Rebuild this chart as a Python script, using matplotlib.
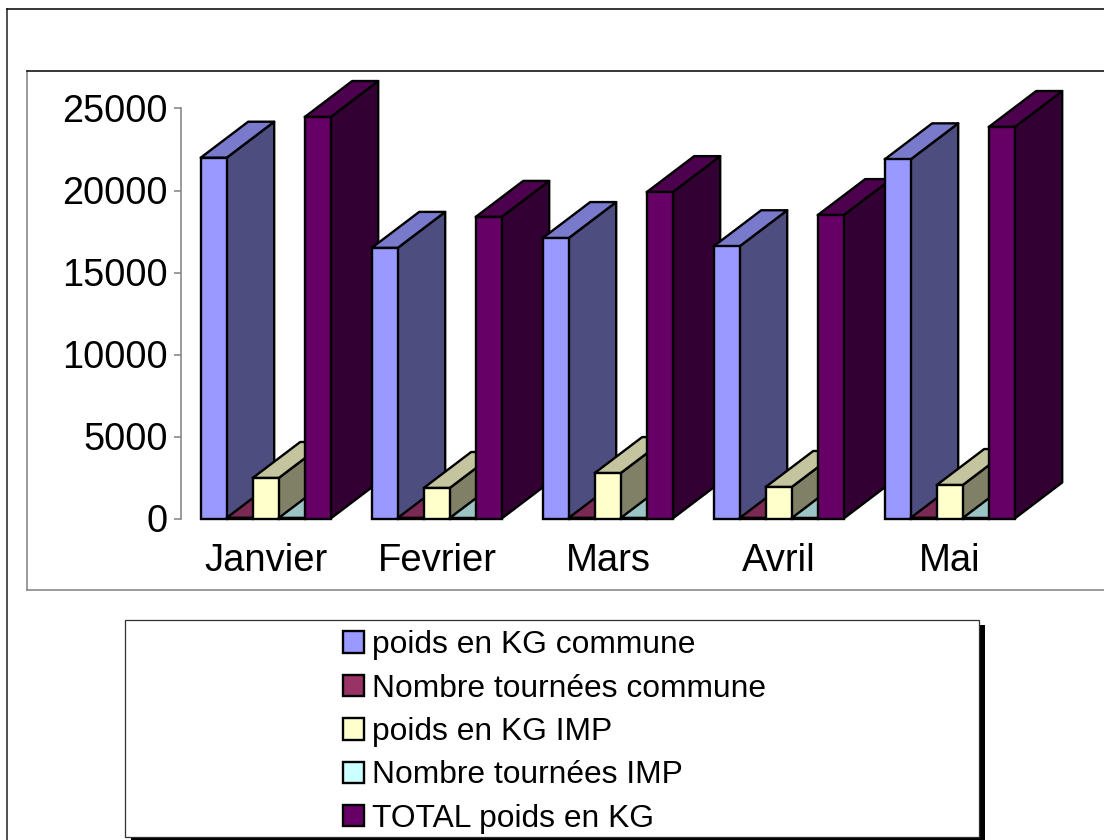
import matplotlib
matplotlib.use("Agg")
import matplotlib.pyplot as plt
from matplotlib.patches import Polygon, Rectangle

plt.rcParams['font.family'] = ['Liberation Sans', 'DejaVu Sans']

months = ['Janvier', 'Fevrier', 'Mars', 'Avril', 'Mai']
yticks = [0, 5000, 10000, 15000, 20000, 25000]

poids_commune = [22000, 16500, 17100, 16600, 21900]
tournees_commune = [40, 30, 35, 30, 40]
poids_imp = [2470, 1860, 2770, 1920, 2040]
tournees_imp = [30, 25, 30, 25, 25]
total_poids = [24480, 18390, 19900, 18500, 23870]

labels = ['poids en KG commune', 'Nombre tournées commune', 'poids en KG IMP',
          'Nombre tournées IMP', 'TOTAL poids en KG']
front = ['#9999FF', '#993366', '#FFFFCC', '#CCFFFF', '#660066']
side = ['#4D4D80', '#4D1A33', '#808066', '#668080', '#330033']
top = ['#7A7ACC', '#7A2952', '#C4C49F', '#9CC4C4', '#4D004D']
series = [poids_commune, tournees_commune, poids_imp, tournees_imp, total_poids]

W, H = 1104, 840
fig = plt.figure(figsize=(W / 100, H / 100), dpi=100)

# frames, in pixels
bg = fig.add_axes([0, 0, 1, 1], zorder=0)
bg.set_xlim(0, W)
bg.set_ylim(H, 0)
bg.axis('off')
bg.plot([7, 7], [H, 9], color='#202020', lw=1.1)
bg.plot([7, W], [9, 9], color='black', lw=1.1)
bg.plot([27, 27], [590, 71], color='#808080', lw=1.1)
bg.plot([27, W], [590, 590], color='#808080', lw=1.1)
bg.plot([27, W], [71, 71], color='black', lw=1.1)
bg.add_patch(Rectangle((131, 625), 854, 216, color='black', lw=0))
bg.add_patch(Rectangle((125, 619.5), 853.5, 217, fc='white', ec='#303030', lw=0.9))

# main chart, 5 groups over 855 px, 410 px for 25000
ax = fig.add_axes([180.5 / W, 1 - 518.5 / H, 855 / W, 410 / H], zorder=1)
ax.patch.set_visible(False)
ax.set_xlim(0, 5)
ax.set_ylim(0, 25000)

bar_w = 26 / 171
dep_x = 47.5 / 171
dep_y = 36 / 410 * 25000
first = 20.2 / 171
lw = 1.7

for g in range(len(months)):
    for s, vals in enumerate(series):
        x0 = g + first + s * bar_w
        x1 = x0 + bar_w
        v = vals[g]
        z = 2 + g * 10 + s
        ax.add_patch(Polygon([(x1, 0), (x1 + dep_x, dep_y), (x1 + dep_x, v + dep_y), (x1, v)],
                             fc=side[s], ec='black', lw=lw, joinstyle='round', clip_on=False, zorder=z))
        ax.add_patch(Polygon([(x0, v), (x0 + dep_x, v + dep_y), (x1 + dep_x, v + dep_y), (x1, v)],
                             fc=top[s], ec='black', lw=lw, joinstyle='round', clip_on=False, zorder=z))
        ax.bar(x0, v, width=bar_w, align='edge', color=front[s], edgecolor='black',
               linewidth=lw, clip_on=False, zorder=z)

ax.set_xticks([i + 0.5 for i in range(len(months))])
ax.set_xticklabels(months)
ax.set_yticks(yticks)
ax.tick_params(axis='x', length=0, pad=17.3, labelsize=27.5)
ax.tick_params(axis='y', length=5, width=1.1, color='#808080', pad=4.4, labelsize=27.3)
for name in ['top', 'right', 'bottom']:
    ax.spines[name].set_visible(False)
ax.spines['left'].set_color('#808080')
ax.spines['left'].set_linewidth(1.1)

handles = [Rectangle((0, 0), 1, 1, fc=c, ec='black', lw=1.7) for c in front]
fig.legend(handles, labels, loc='upper left', bbox_to_anchor=(337 / W, 1 - 624 / H),
           frameon=False, fontsize=22.9, handlelength=0.66, handleheight=0.66,
           handletextpad=0.25, labelspacing=0.42, borderpad=0.2, borderaxespad=0)

fig.savefig('out.png', dpi=100)
